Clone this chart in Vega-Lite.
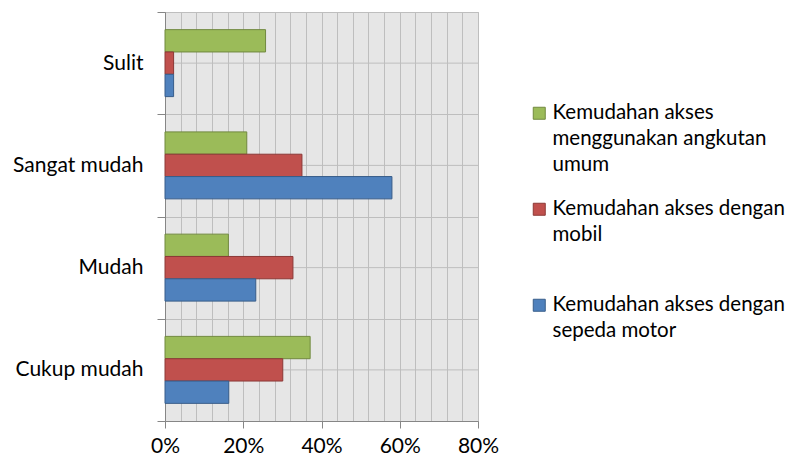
{
  "$schema": "https://vega.github.io/schema/vega-lite/v6.json",
  "width": 313,
  "height": 409,
  "autosize": {"type": "none"},
  "padding": {"left": 165, "top": 12, "right": 314, "bottom": 40},
  "background": "white",
  "config": {
    "view": {"fill": "#E6E6E6", "stroke": "#BEBEBE", "strokeWidth": 1},
    "font": "Lato",
    "style": {"guide-label": {"lineHeight": 26}}
  },
  "datasets": {
    "bars": [
      {"cat": "Sulit", "series": "Kemudahan akses menggunakan angkutan umum", "value": 25.7},
      {"cat": "Sulit", "series": "Kemudahan akses dengan mobil", "value": 2.2},
      {"cat": "Sulit", "series": "Kemudahan akses dengan sepeda motor", "value": 2.2},
      {"cat": "Sangat mudah", "series": "Kemudahan akses menggunakan angkutan umum", "value": 20.9},
      {"cat": "Sangat mudah", "series": "Kemudahan akses dengan mobil", "value": 35.0},
      {"cat": "Sangat mudah", "series": "Kemudahan akses dengan sepeda motor", "value": 58.0},
      {"cat": "Mudah", "series": "Kemudahan akses menggunakan angkutan umum", "value": 16.2},
      {"cat": "Mudah", "series": "Kemudahan akses dengan mobil", "value": 32.7},
      {"cat": "Mudah", "series": "Kemudahan akses dengan sepeda motor", "value": 23.2},
      {"cat": "Cukup mudah", "series": "Kemudahan akses menggunakan angkutan umum", "value": 37.1},
      {"cat": "Cukup mudah", "series": "Kemudahan akses dengan mobil", "value": 30.1},
      {"cat": "Cukup mudah", "series": "Kemudahan akses dengan sepeda motor", "value": 16.3}
    ],
    "cats": [
      {"cat": "Sulit"},
      {"cat": "Sangat mudah"},
      {"cat": "Mudah"},
      {"cat": "Cukup mudah"}
    ]
  },
  "layer": [
    {
      "data": {"name": "cats"},
      "mark": {"type": "rule", "color": "#BEBEBE", "strokeWidth": 1},
      "encoding": {
        "y": {"field": "cat", "type": "nominal", "sort": ["Sulit", "Sangat mudah", "Mudah", "Cukup mudah"]}
      }
    },
    {
      "data": {"name": "bars"},
      "mark": {"type": "bar", "strokeWidth": 1},
      "encoding": {
        "y": {
          "field": "cat",
          "type": "nominal",
          "sort": ["Sulit", "Sangat mudah", "Mudah", "Cukup mudah"],
          "scale": {"paddingInner": 0, "paddingOuter": 0},
          "axis": {
            "title": null,
            "tickBand": "extent",
            "grid": true,
            "gridColor": "#BEBEBE",
            "domainColor": "#868686",
            "tickColor": "#868686",
            "tickSize": 8,
            "labelFontSize": 21,
            "labelFont": "Lato",
            "labelColor": "#000000",
            "labelPadding": 14,
            "labelLimit": 300
          }
        },
        "yOffset": {
          "field": "series",
          "type": "nominal",
          "sort": ["Kemudahan akses menggunakan angkutan umum", "Kemudahan akses dengan mobil", "Kemudahan akses dengan sepeda motor"],
          "scale": {"paddingInner": 0, "paddingOuter": 0.79}
        },
        "x": {
          "field": "value",
          "type": "quantitative",
          "scale": {"domain": [0, 80], "nice": false, "zero": true},
          "axis": {
            "title": null,
            "values": [0, 4, 8, 12, 16, 20, 24, 28, 32, 36, 40, 44, 48, 52, 56, 60, 64, 68, 72, 76, 80],
            "grid": true,
            "gridColor": "#BEBEBE",
            "labelExpr": "datum.value % 20 == 0 ? datum.value + '%' : ''",
            "tickOpacity": {"condition": {"test": "datum.value % 20 == 0", "value": 1}, "value": 0},
            "tickSize": 7,
            "tickColor": "#868686",
            "domainColor": "#868686",
            "labelPadding": 7,
            "labelFontSize": 21,
            "labelFont": "Lato",
            "labelColor": "#000000",
            "labelFlush": false,
            "labelOverlap": false
          }
        },
        "color": {
          "field": "series",
          "type": "nominal",
          "sort": ["Kemudahan akses menggunakan angkutan umum", "Kemudahan akses dengan mobil", "Kemudahan akses dengan sepeda motor"],
          "scale": {
            "domain": ["Kemudahan akses menggunakan angkutan umum", "Kemudahan akses dengan mobil", "Kemudahan akses dengan sepeda motor"],
            "range": ["#9BBB59", "#C0504D", "#4F81BD"]
          },
          "legend": {
            "orient": "none",
            "legendX": 364,
            "legendY": 91,
            "title": null,
            "padding": 0,
            "symbolType": "square",
            "symbolSize": 144,
            "symbolStrokeWidth": 1,
            "labelFontSize": 20.5,
            "labelFont": "Lato",
            "labelColor": "#000000",
            "labelOffset": 3,
            "labelLimit": 400,
            "rowPadding": 23,
            "labelExpr": "datum.value == 'Kemudahan akses menggunakan angkutan umum' ? ['Kemudahan akses', 'menggunakan angkutan', 'umum'] : datum.value == 'Kemudahan akses dengan mobil' ? ['Kemudahan akses dengan', 'mobil', ''] : ['Kemudahan akses dengan', 'sepeda motor', '']"
          }
        },
        "stroke": {
          "field": "series",
          "type": "nominal",
          "sort": ["Kemudahan akses menggunakan angkutan umum", "Kemudahan akses dengan mobil", "Kemudahan akses dengan sepeda motor"],
          "scale": {
            "domain": ["Kemudahan akses menggunakan angkutan umum", "Kemudahan akses dengan mobil", "Kemudahan akses dengan sepeda motor"],
            "range": ["#71893F", "#8C3836", "#385D8A"]
          },
          "legend": {
            "orient": "none",
            "legendX": 364,
            "legendY": 91,
            "title": null,
            "padding": 0,
            "symbolType": "square",
            "symbolSize": 144,
            "symbolStrokeWidth": 1,
            "labelFontSize": 20.5,
            "labelFont": "Lato",
            "labelColor": "#000000",
            "labelOffset": 3,
            "labelLimit": 400,
            "rowPadding": 23,
            "labelExpr": "datum.value == 'Kemudahan akses menggunakan angkutan umum' ? ['Kemudahan akses', 'menggunakan angkutan', 'umum'] : datum.value == 'Kemudahan akses dengan mobil' ? ['Kemudahan akses dengan', 'mobil', ''] : ['Kemudahan akses dengan', 'sepeda motor', '']"
          }
        }
      }
    }
  ]
}
